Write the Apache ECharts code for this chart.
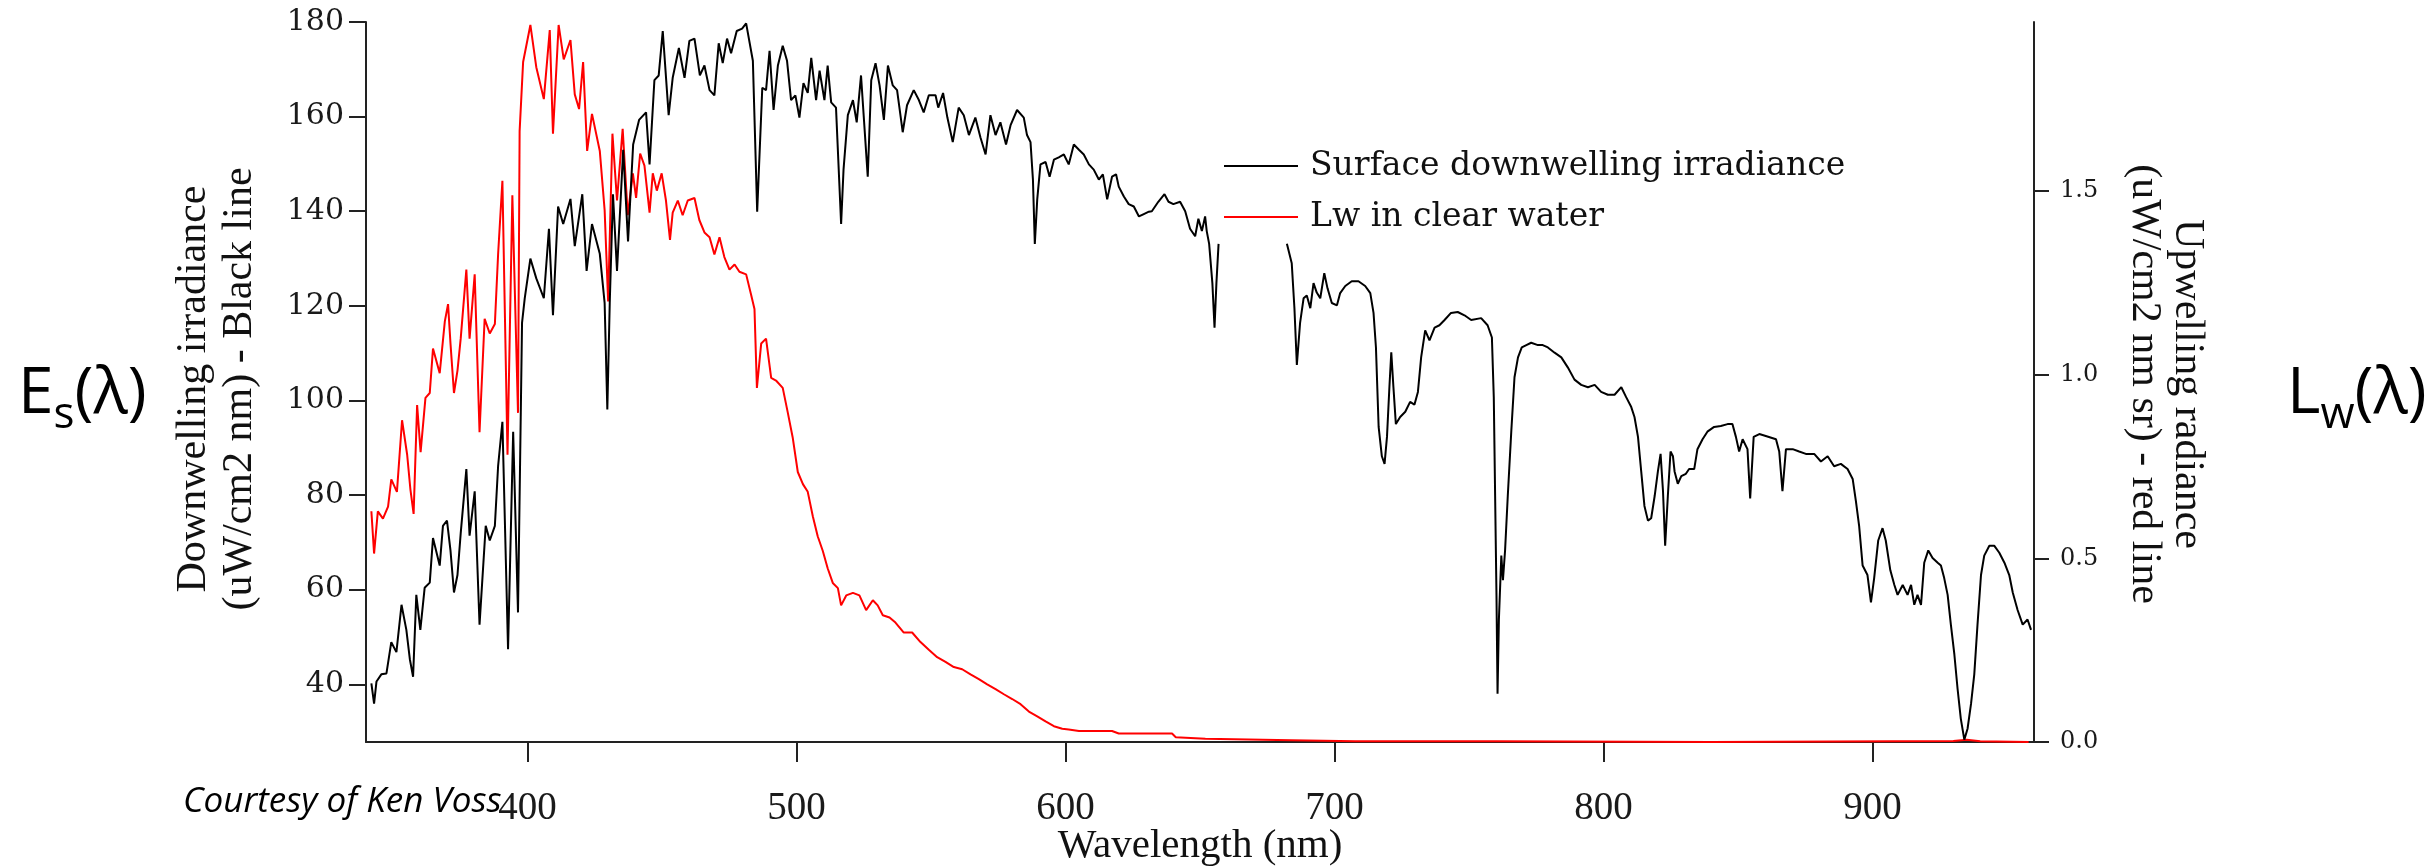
<!DOCTYPE html>
<html>
<head>
<meta charset="utf-8">
<script src="https://cdn.jsdelivr.net/npm/echarts@6/dist/echarts.min.js"></script>
<style>
html, body { margin: 0; padding: 0; background: #fff; }
#main { width: 2428px; height: 868px; }
</style>
</head>
<body>
<div id="main"></div>
<script>
// surface downwelling irradiance (black line, left axis)
var blackWl = [342, 343, 343.9, 345.7, 347.6, 349.4, 351.3, 353.2, 355, 356.3, 357.5, 358.7, 360.2, 361.8, 363.7, 364.9, 367.4, 368.6, 370.1, 371.4,
	372.7, 374, 375.2, 377.3, 378.5, 380.4, 382.2, 384.5, 386, 387.9, 389.1, 390.7, 392.8, 394.7, 396.5, 398, 399, 401.1, 403.3, 406.1,
	408, 409.5, 411.4, 413.3, 416, 417.6, 420.4, 422, 424, 426.9, 428.7, 429.7, 430.6, 431.8, 433.3, 435.6, 437.4, 439.3, 441.5, 444.1,
	445.4, 447.2, 448.8, 450.3, 452.5, 454, 456.3, 458.4, 460.2, 462.1, 464.1, 465.8, 467.7, 469.5, 471.1, 472.6, 474.2, 475.7, 477.8, 479.8,
	481.3, 483.8, 485.4, 487.3, 488.7, 490, 491.5, 493.1, 494.9, 496.5, 498, 499.6, 501.1, 502.6, 504.2, 505.5, 507.3, 508.6, 510.4, 511.6,
	512.9, 514.7, 516.6, 517.5, 519.1, 521, 522.4, 524, 526.5, 527.8, 529.4, 530.9, 532.5, 534, 535.8, 537.4, 539.5, 541.1, 543.6, 545.5,
	547.3, 549.2, 551.7, 552.7, 554.5, 556.1, 558.1, 560.3, 562.2, 564.1, 566.5, 568.4, 570.3, 572.1, 574, 575.8, 577.9, 579.6, 582, 584.5,
	585.7, 587, 587.9, 588.6, 589.5, 590.7, 592.6, 594.1, 595.7, 597.5, 599.4, 601.2, 603.1, 605, 606.8, 608.7, 610.5, 612.4, 613.9, 615.5,
	617.3, 618.8, 619.8, 621.7, 623.5, 625.4, 627.3, 629.1, 631, 632.1, 634.5, 636.8, 638.3, 640.1, 642.6, 644.5, 646.3, 648.2, 649.4, 650.7,
	651.9, 652.5, 653.4, 654.6, 655.4, 656.1, 656.9, 670, 682.3, 684.1, 685.1, 686, 687.2, 688.5, 689.7, 691, 692.2, 693.4, 694.7, 696.2,
	697.4, 699, 700.9, 702.1, 704, 706.4, 708.9, 711.4, 713.3, 714.5, 715.4, 716.4, 717.6, 718.6, 719.5, 720.4, 721.1, 721.9, 722.8, 724.4,
	726.3, 728.1, 729.7, 731, 732.2, 733.7, 735.3, 737.2, 739, 740.9, 743.3, 745.8, 748.3, 750.8, 754.5, 756.9, 758.5, 759.2, 759.7, 760.2,
	760.6, 761.1, 762, 762.6, 763.4, 764.4, 765.7, 766.9, 768.2, 769.6, 771.3, 773.1, 775.6, 777.4, 779.3, 781.8, 784.3, 786.7, 789.2, 791.7,
	794.2, 796.7, 799.1, 801.6, 804.1, 806.6, 808.4, 810.3, 811.5, 812.8, 814, 815.2, 816.5, 817.7, 819, 820.2, 821.2, 822.1, 822.9, 823.9,
	824.9, 825.8, 826.4, 827.6, 828.9, 830.6, 831.8, 833.7, 834.9, 836.8, 838.6, 841.1, 843.6, 846.1, 847.9, 849.2, 850.4, 851.7, 853.5, 854.5,
	855.8, 857.9, 860.3, 864.1, 865.3, 866.5, 867.8, 870.3, 872.7, 875.2, 878.3, 880.8, 883.3, 885.7, 888.2, 890.7, 892.6, 893.8, 895, 896.3,
	898.1, 899.4, 900.6, 902.1, 903.7, 904.9, 906.6, 908.1, 909.3, 911.2, 913, 914.3, 915.5, 916.7, 918, 919.2, 920.7, 922.3, 924.2, 925.4,
	926.6, 927.9, 929.1, 930.4, 931.6, 932.8, 934.1, 935.3, 936.6, 937.8, 939, 940.3, 941.5, 943.4, 945.2, 947.1, 949, 950.8, 952.1, 953.9,
	955.8, 957.6, 958.9];
var blackVal = [40.2, 35.9, 40.6, 42.1, 42.3, 48.9, 46.8, 56.8, 51.5, 45.3, 41.6, 58.9, 51.5, 60.4, 61.5, 70.9, 65.1, 73.5, 74.6, 68.3,
	59.4, 63.1, 71.9, 85.5, 71.4, 80.8, 52.6, 73.5, 70.4, 73.5, 86.1, 95.5, 47.4, 93.4, 55.2, 116.4, 121.6, 130, 125.8, 121.6,
	136.3, 118, 141, 137.3, 142.6, 132.6, 143.6, 127.4, 137.3, 131, 120.6, 98.1, 120.6, 143.6, 127.4, 153, 133.6, 154.1, 159.3, 160.9,
	149.9, 167.7, 168.7, 178.1, 160.3, 168.2, 174.5, 168.2, 176, 176.5, 168.7, 170.8, 165.6, 164.5, 175.5, 171.3, 176.5, 173.4, 178.1, 178.6,
	179.7, 171.8, 139.9, 166.1, 165.6, 173.9, 161.4, 170.8, 175, 171.8, 163.5, 164.5, 159.8, 167.1, 165, 172.4, 163.5, 169.7, 163.5, 170.8,
	163, 161.9, 137.3, 148.8, 160.3, 163.5, 158.8, 168.7, 147.3, 167.7, 171.3, 166.6, 159.3, 170.8, 166.6, 165.6, 156.7, 162.4, 165.6, 163.5,
	160.9, 164.5, 164.5, 161.9, 165, 159.8, 154.6, 161.9, 160.3, 156.1, 159.8, 155.6, 152, 160.3, 156.1, 158.8, 154.1, 158.2, 161.4, 159.8,
	156.1, 154.6, 146.7, 133.1, 142.5, 149.9, 150.4, 147.3, 150.9, 151.4, 152, 149.9, 154.1, 153, 152, 149.9, 148.8, 146.7, 147.8, 142.5,
	147.3, 147.8, 145.2, 143.1, 141.5, 141, 138.9, 139.4, 139.9, 140, 142, 143.6, 142, 141.5, 142, 140, 136.3, 134.7, 138.4, 135.8,
	138.9, 135.8, 133.1, 124.8, 115.4, 124.8, 133.1, null, 133.1, 129, 119.5, 107.5, 116.4, 121.6, 122.2, 119.5, 124.8, 122.8, 121.6, 126.9,
	123.7, 120.6, 120.1, 122.7, 124.2, 125.2, 125.2, 124.2, 122.7, 118.5, 111.2, 94.4, 88.2, 86.6, 92.3, 102.8, 110.2, 102.8, 95, 96.5,
	97.6, 99.7, 99.1, 101.8, 109.1, 114.8, 112.7, 115.4, 115.9, 117, 118.5, 118.7, 118, 117, 117.4, 115.9, 113.3, 100.7, 79.8, 58.9,
	38, 53.7, 67.2, 62, 68.3, 79.8, 93.4, 104.9, 109.1, 111.2, 111.7, 112.2, 111.7, 111.7, 111.2, 110.1, 109.1, 107, 104.4, 103.3,
	102.8, 103.3, 101.8, 101.2, 101.2, 102.8, 100.7, 98.6, 96.5, 92.3, 85, 77.7, 74.6, 75.1, 79.8, 85, 88.7, 80.8, 69.3, 79.8,
	89.2, 88.2, 85, 82.4, 84, 84.5, 85.5, 85.5, 89.7, 91.8, 93.4, 94.4, 94.6, 95, 95, 92.3, 89.2, 91.8, 89.7, 79.3,
	92.3, 92.9, 92.5, 91.8, 89.2, 80.8, 89.7, 89.7, 89.2, 88.7, 88.7, 87.1, 88.2, 86.1, 86.6, 85.5, 83.4, 78.7, 73.5, 65.1,
	63.1, 57.3, 62.5, 70.4, 73, 70.4, 64.1, 61, 58.9, 61, 58.9, 61, 56.8, 58.9, 56.8, 65.7, 68.3, 66.7, 65.7, 65.1,
	62.5, 58.9, 52.6, 46.3, 39, 32.7, 28.3, 30.6, 35.9, 42.1, 52.6, 63.1, 67.2, 69.3, 69.3, 67.8, 65.7, 63.1, 59.4, 55.7,
	52.6, 53.7, 51.5];

// Lw in clear water (red line, right axis)
var redWl = [342, 343, 344.4, 346.3, 348.2, 349.4, 351.5, 353.4, 355.3, 356.5, 357.7, 359, 360.3, 362.1, 363.7, 364.9, 367.4, 369.3, 370.5, 371.4,
	372.7, 374, 375.2, 377.3, 378.5, 380.4, 382.2, 384.1, 386, 387.9, 389.1, 390.7, 392.6, 394.4, 396.5, 397.1, 398.4, 401.1, 403.3, 406.1,
	408.3, 409.5, 411.6, 413.5, 416, 417.6, 419.2, 420.7, 422.2, 424, 426.9, 428.7, 430, 431.6, 433.3, 435.4, 437.3, 439.2, 440.4, 441.9,
	443.5, 445.4, 446.6, 448.1, 449.9, 451.5, 453, 454, 455.9, 457.7, 459.6, 462.1, 463.9, 465.8, 467.7, 469.5, 471.4, 473.2, 475.1, 477,
	478.8, 481.3, 483.1, 484.4, 485.3, 486.9, 488.7, 490.6, 492.4, 494.9, 496.8, 498.6, 500.5, 502.4, 504.2, 506.1, 507.9, 509.8, 511.6, 513.5,
	515.4, 516.6, 518.5, 521, 523.4, 525.9, 528.4, 530.2, 532.1, 534.6, 536.8, 539.9, 543, 546.1, 549.2, 552.3, 555.4, 558.5, 561.6, 564.7,
	567.8, 570.9, 574, 577.1, 580.2, 583.3, 586.4, 589.5, 592.6, 595.7, 598.8, 601.2, 605, 617.3, 619.8, 639.6, 641, 652, 684, 707.7,
	760, 840, 930, 935, 940, 958];
var redVal = [0.628, 0.513, 0.628, 0.608, 0.641, 0.715, 0.681, 0.876, 0.782, 0.688, 0.621, 0.917, 0.789, 0.937, 0.95, 1.071, 1.004, 1.145, 1.192, 1.085,
	0.95, 1.011, 1.098, 1.286, 1.098, 1.273, 0.843, 1.152, 1.112, 1.138, 1.327, 1.528, 0.782, 1.488, 0.896, 1.663, 1.851, 1.952, 1.837, 1.75,
	1.938, 1.656, 1.952, 1.858, 1.911, 1.763, 1.723, 1.851, 1.609, 1.71, 1.609, 1.448, 1.199, 1.656, 1.474, 1.669, 1.434, 1.548, 1.481, 1.602,
	1.569, 1.441, 1.548, 1.501, 1.548, 1.474, 1.367, 1.441, 1.474, 1.434, 1.474, 1.481, 1.421, 1.387, 1.374, 1.327, 1.374, 1.32, 1.286, 1.3,
	1.28, 1.273, 1.219, 1.179, 0.964, 1.085, 1.098, 0.991, 0.984, 0.964, 0.896, 0.829, 0.735, 0.702, 0.681, 0.614, 0.56, 0.52, 0.473, 0.433,
	0.419, 0.372, 0.399, 0.406, 0.399, 0.359, 0.386, 0.372, 0.345, 0.339, 0.325, 0.298, 0.298, 0.272, 0.251, 0.231, 0.218, 0.204, 0.198, 0.184,
	0.171, 0.157, 0.144, 0.13, 0.117, 0.103, 0.083, 0.07, 0.056, 0.043, 0.036, 0.034, 0.03, 0.03, 0.023, 0.023, 0.013, 0.009, 0.005, 0.002,
	0.002, 0, 0.003, 0.006, 0.002, 0];

var xTicks = [400, 500, 600, 700, 800, 900];
var leftTicks = [40, 60, 80, 100, 120, 140, 160, 180];
var rightTicks = [0, 0.5, 1.0, 1.5];

function pairs(xs, ys){
	var out = [];
	for (var i = 0; i < xs.length; i++) {
		out.push([xs[i], ys[i]]);
	}
	return out;
}

var axisColor = '#222';
var labelColor = '#1a1a1a';

// big symbol text beside each axis, s / w dropped as subscript
var symbolRich = {
	b: { fontFamily: 'Open Sans', fontSize: 64, fill: '#000' },
	s: { fontFamily: 'Open Sans', fontSize: 44, fill: '#000', padding: [40, 0, 0, 0] }
};

var chart = echarts.init(document.getElementById('main'));

var option = {
	animation: false,
	backgroundColor: '#fff',
	grid: {
		left: 366,
		right: 394,
		top: 22,
		bottom: 126,
		outerBoundsMode: 'none'
	},
	legend: {
		orient: 'vertical',
		left: 1219,
		top: 141,
		icon: 'rect',
		itemWidth: 74,
		itemHeight: 2,
		itemGap: 11,
		selectedMode: false,
		textStyle: {
			fontFamily: 'DejaVu Serif',
			fontSize: 33,
			lineHeight: 40,
			color: '#111',
			padding: [0, 0, 0, 7]
		},
		data: ['Surface downwelling irradiance', 'Lw in clear water']
	},
	xAxis: {
		type: 'value',
		min: 340,
		max: 960,
		splitLine: { show: false },
		axisLine: { lineStyle: { color: axisColor, width: 2 } },
		axisTick: {
			customValues: xTicks,
			length: 20,
			lineStyle: { color: axisColor, width: 2 }
		},
		axisLabel: {
			customValues: xTicks,
			margin: 47,
			fontFamily: 'Liberation Serif',
			fontSize: 39,
			color: labelColor
		}
	},
	yAxis: [
		{
			type: 'value',
			position: 'left',
			min: 27.8,
			max: 180,
			splitLine: { show: false },
			axisLine: { show: true, lineStyle: { color: axisColor, width: 2 } },
			axisTick: {
				show: true,
				customValues: leftTicks,
				length: 17,
				lineStyle: { color: axisColor, width: 2 }
			},
			axisLabel: {
				customValues: leftTicks,
				margin: 22,
				fontFamily: 'DejaVu Serif',
				fontSize: 30,
				color: labelColor
			}
		},
		{
			type: 'value',
			position: 'right',
			min: 0,
			max: 1.96,
			splitLine: { show: false },
			axisLine: { show: true, lineStyle: { color: axisColor, width: 2 } },
			axisTick: {
				show: true,
				customValues: rightTicks,
				length: 15,
				lineStyle: { color: axisColor, width: 2 }
			},
			axisLabel: {
				customValues: rightTicks,
				margin: 26,
				fontFamily: 'DejaVu Serif',
				fontSize: 24,
				color: labelColor,
				formatter: function(v){ return v.toFixed(1); }
			}
		}
	],
	series: [
		{
			name: 'Lw in clear water',
			type: 'line',
			yAxisIndex: 1,
			symbol: 'none',
			lineStyle: { color: '#ff0000', width: 2 },
			itemStyle: { color: '#ff0000' },
			data: pairs(redWl, redVal)
		},
		{
			name: 'Surface downwelling irradiance',
			type: 'line',
			yAxisIndex: 0,
			symbol: 'none',
			connectNulls: false,
			lineStyle: { color: '#000', width: 2 },
			itemStyle: { color: '#000' },
			data: pairs(blackWl, blackVal)
		}
	],
	graphic: [
		{
			type: 'text',
			x: 18,
			y: 395,
			style: {
				text: '{b|E}{s|s}{b|(λ)}',
				verticalAlign: 'middle',
				rich: symbolRich
			}
		},
		{
			type: 'text',
			x: 2287,
			y: 395,
			style: {
				text: '{b|L}{s|w}{b|(λ)}',
				verticalAlign: 'middle',
				rich: symbolRich
			}
		},
		{
			type: 'text',
			x: 217,
			y: 389,
			rotation: Math.PI / 2,
			style: {
				text: 'Downwelling irradiance\n(uW/cm2 nm) - Black line',
				fontFamily: 'Liberation Serif',
				fontSize: 42,
				lineHeight: 46,
				fill: '#111',
				align: 'center',
				verticalAlign: 'middle'
			}
		},
		{
			type: 'text',
			x: 2166,
			y: 384,
			rotation: -Math.PI / 2,
			style: {
				text: 'Upwelling radiance\n(uW/cm2 nm sr) - red line',
				fontFamily: 'Liberation Serif',
				fontSize: 42,
				lineHeight: 43,
				fill: '#111',
				align: 'center',
				verticalAlign: 'middle'
			}
		},
		{
			type: 'text',
			x: 1200,
			y: 846,
			style: {
				text: 'Wavelength (nm)',
				fontFamily: 'Liberation Serif',
				fontSize: 41,
				fill: '#111',
				align: 'center',
				verticalAlign: 'middle'
			}
		},
		{
			type: 'text',
			x: 183,
			y: 802,
			style: {
				text: 'Courtesy of Ken Voss',
				fontFamily: 'Open Sans',
				fontStyle: 'italic',
				fontSize: 35,
				fill: '#000',
				verticalAlign: 'middle'
			}
		}
	]
};

chart.setOption(option);
</script>
</body>
</html>
